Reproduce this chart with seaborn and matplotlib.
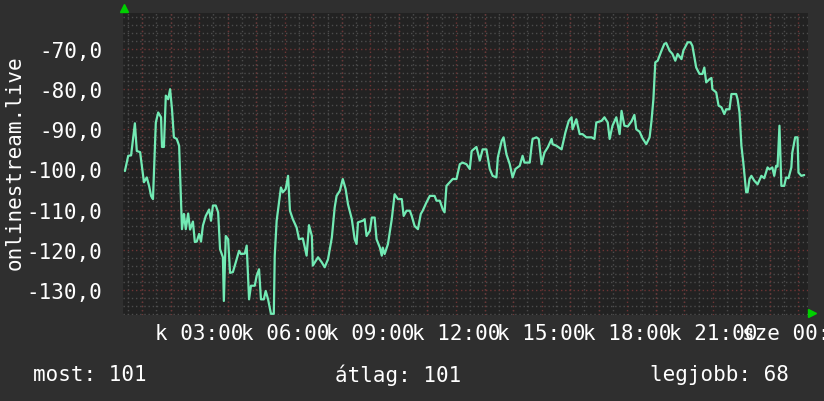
#!/usr/bin/env python3
"""Signal strength of onlinestream.live over the last 24 hours (rrdtool look)"""

import matplotlib
matplotlib.use('Agg')
import matplotlib.pyplot as plt
import seaborn as sns
from matplotlib.ticker import MultipleLocator

# minutes since Tuesday 00:00
minutes = [
    24, 31, 37, 41, 45, 49, 56, 60, 64, 70, 75, 79, 83, 89, 94, 100, 102, 106,
    110, 115, 119, 123, 127, 133, 138, 144, 148, 152, 157, 161, 167, 171, 175,
    180, 184, 188, 194, 201, 205, 209, 215, 220, 224, 230, 232, 236, 241, 245,
    251, 257, 264, 268, 276, 280, 285, 289, 297, 301, 306, 310, 316, 320, 325,
    331, 337, 339, 343, 352, 356, 362, 367, 371, 377, 385, 390, 398, 406, 411,
    417, 419, 430, 438, 444, 451, 459, 465, 469, 476, 482, 488, 493, 501, 507,
    511, 514, 524, 528, 532, 539, 543, 549, 553, 560, 564, 566, 570, 577, 585,
    591, 598, 606, 610, 616, 623, 627, 633, 640, 646, 650, 658, 665, 675, 679,
    686, 692, 696, 700, 707, 713, 721, 728, 734, 742, 749, 753, 763, 770, 776,
    784, 791, 797, 805, 808, 816, 820, 826, 833, 839, 845, 854, 860, 864, 875,
    879, 881, 889, 894, 900, 906, 913, 921, 923, 931, 942, 950, 957, 963, 965,
    973, 980, 986, 994, 1005, 1011, 1015, 1026, 1032, 1039, 1043, 1049, 1057,
    1064, 1068, 1074, 1081, 1089, 1095, 1099, 1106, 1112, 1120, 1127, 1131,
    1135, 1139, 1144, 1152, 1158, 1162, 1169, 1175, 1181, 1186, 1194, 1198,
    1207, 1213, 1217, 1225, 1232, 1238, 1242, 1246, 1253, 1257, 1259, 1267,
    1272, 1278, 1284, 1288, 1295, 1299, 1309, 1312, 1316, 1320, 1324, 1330,
    1333, 1337, 1341, 1347, 1354, 1362, 1368, 1375, 1379, 1385, 1389, 1393,
    1396, 1400, 1404, 1410, 1414, 1419, 1425, 1427, 1433, 1438, 1440, 1446,
    1452,
]

# signal level
signal = [
    -100.4, -96.6, -96.5, -92.4, -88.5, -95.4, -95.7, -99.4, -103.2, -102.0,
    -104.2, -106.6, -107.4, -88.3, -85.8, -87.0, -94.4, -94.4, -81.6, -82.5,
    -80.0, -85.0, -92.0, -92.4, -94.1, -114.9, -111.1, -114.9, -111.0, -115.0,
    -113.0, -118.1, -118.0, -116.1, -118.0, -114.0, -111.6, -110.0, -112.8,
    -109.0, -109.0, -110.7, -119.9, -121.9, -132.8, -116.6, -117.4, -125.8,
    -125.6, -123.2, -120.3, -121.1, -121.0, -119.0, -132.4, -129.0, -129.0,
    -126.5, -124.9, -132.4, -132.4, -130.3, -132.4, -136.0, -136.0, -121.5,
    -112.8, -104.5, -105.7, -104.9, -101.6, -110.3, -112.4, -114.5, -117.4,
    -117.2, -121.5, -113.9, -116.6, -124.0, -121.9, -123.2, -124.4, -122.4,
    -117.0, -109.5, -106.6, -105.3, -102.4, -104.9, -108.7, -112.4, -117.4,
    -118.6, -113.2, -112.8, -112.4, -116.6, -115.3, -112.0, -112.0, -117.4,
    -119.5, -121.5, -119.5, -121.1, -118.6, -112.4, -106.2, -107.4, -107.4,
    -111.6, -110.3, -110.3, -111.6, -114.1, -114.9, -111.1, -110.3, -108.2,
    -106.6, -106.6, -107.8, -107.8, -109.9, -110.7, -104.1, -103.2, -102.4,
    -102.4, -98.7, -98.3, -98.7, -99.9, -95.4, -94.4, -97.8, -95.0, -95.0,
    -99.9, -101.6, -102.0, -97.0, -92.9, -92.0, -96.2, -98.7, -102.0, -99.9,
    -99.1, -96.6, -98.3, -98.3, -94.1, -92.4, -92.0, -92.4, -98.7, -95.8,
    -94.5, -92.4, -93.7, -94.1, -95.0, -90.8, -87.9, -87.0, -90.0, -87.5,
    -91.2, -91.2, -92.0, -92.0, -92.4, -88.3, -87.9, -87.0, -88.3, -92.4,
    -89.1, -87.0, -91.2, -85.4, -89.1, -89.3, -88.0, -86.4, -90.0, -90.6,
    -92.2, -93.7, -92.0, -87.9, -82.5, -73.3, -72.9, -70.4, -68.7, -68.5,
    -70.4, -71.2, -72.9, -71.2, -72.5, -70.4, -68.3, -68.3, -69.2, -74.6,
    -76.2, -76.2, -74.6, -78.3, -77.5, -77.2, -80.0, -80.8, -84.1, -84.5,
    -86.2, -85.0, -85.0, -81.2, -81.2, -82.5, -85.8, -94.1, -98.3, -105.7,
    -105.7, -102.4, -101.6, -102.8, -103.7, -101.6, -102.2, -99.5, -100.0,
    -99.5, -101.6, -99.1, -99.3, -89.1, -104.1, -104.1, -102.0, -102.2, -99.5,
    -95.8, -92.0, -92.0, -100.8, -101.6, -101.4,
]

y_ticks = [-130, -120, -110, -100, -90, -80, -70]
y_labels = ['-130,0', '-120,0', '-110,0', '-100,0', '-90,0', '-80,0', '-70,0']
x_ticks = [180, 360, 540, 720, 900, 1080, 1260, 1440]
x_labels = ['k 03:00', 'k 06:00', 'k 09:00', 'k 12:00', 'k 15:00',
            'k 18:00', 'k 21:00', 'sze 00:00']
stats = ['most: 101', 'átlag: 101', 'legjobb: 68']
y_title = 'onlinestream.live'

BG = '#2f2f2f'
PLOT_BG = '#222222'
LINE = '#72eab4'
MINOR = '#4c4c4c'
MAJOR = '#6e3434'

sns.set_style('dark', {'axes.facecolor': PLOT_BG, 'figure.facecolor': BG})
plt.rcParams['font.family'] = ['DejaVu Sans Mono']
plt.rcParams['font.size'] = 15

fig = plt.figure(figsize=(8.24, 4.02), dpi=100)
ax = fig.add_axes([123 / 824, 86 / 402, 685 / 824, 302 / 402])
ax.set_facecolor(PLOT_BG)

sns.lineplot(x=minutes, y=signal, ax=ax, color=LINE, linewidth=1.6,
             estimator=None, zorder=5)

ax.set_xlim(20, 1460)
ax.set_ylim(-136.3, -61.0)

# gray dotted grid: every 30 min / every 2 units
ax.xaxis.set_minor_locator(MultipleLocator(30))
ax.yaxis.set_minor_locator(MultipleLocator(2))
ax.grid(which='minor', color=MINOR, linestyle=(0, (1, 2)), linewidth=1)
ax.grid(False, which='major')
ax.set_axisbelow(True)

ax.set_xticks(x_ticks)
ax.set_xticklabels(x_labels)
ax.set_yticks(y_ticks)
ax.set_yticklabels(y_labels)
ax.tick_params(axis='x', which='both', length=0, pad=6, colors='white',
               labelsize=15)
ax.tick_params(axis='y', which='both', length=0, pad=15, colors='white',
               labelsize=15)

# red dotted grid: hourly and every 10 units
for m in range(60, 1460, 60):
    ax.axvline(m, color=MAJOR, linestyle=(0, (1, 2)), linewidth=1, zorder=1)
for v in range(-130, -60, 10):
    ax.axhline(v, color=MAJOR, linestyle=(0, (1, 2)), linewidth=1, zorder=1)

for s in ax.spines.values():
    s.set_visible(False)

ax.set_xlabel('')
ax.set_ylabel('')

# rrdtool axis arrows
ax.plot([0.0015], [1.018], marker='^', color='#00d000', markersize=6,
        transform=ax.transAxes, clip_on=False)
ax.plot([1.006], [0.005], marker='>', color='#00d000', markersize=6,
        transform=ax.transAxes, clip_on=False)

fig.text(15 / 824, 1 - 163 / 402, y_title, rotation=90, color='white',
         ha='center', va='center', fontsize=15)

for xpos, txt in zip([33, 335, 650], stats):
    fig.text(xpos / 824, 1 - 375 / 402, txt, color='white', ha='left',
             va='center', fontsize=15)

fig.savefig('out.png', dpi=100, facecolor=BG)
